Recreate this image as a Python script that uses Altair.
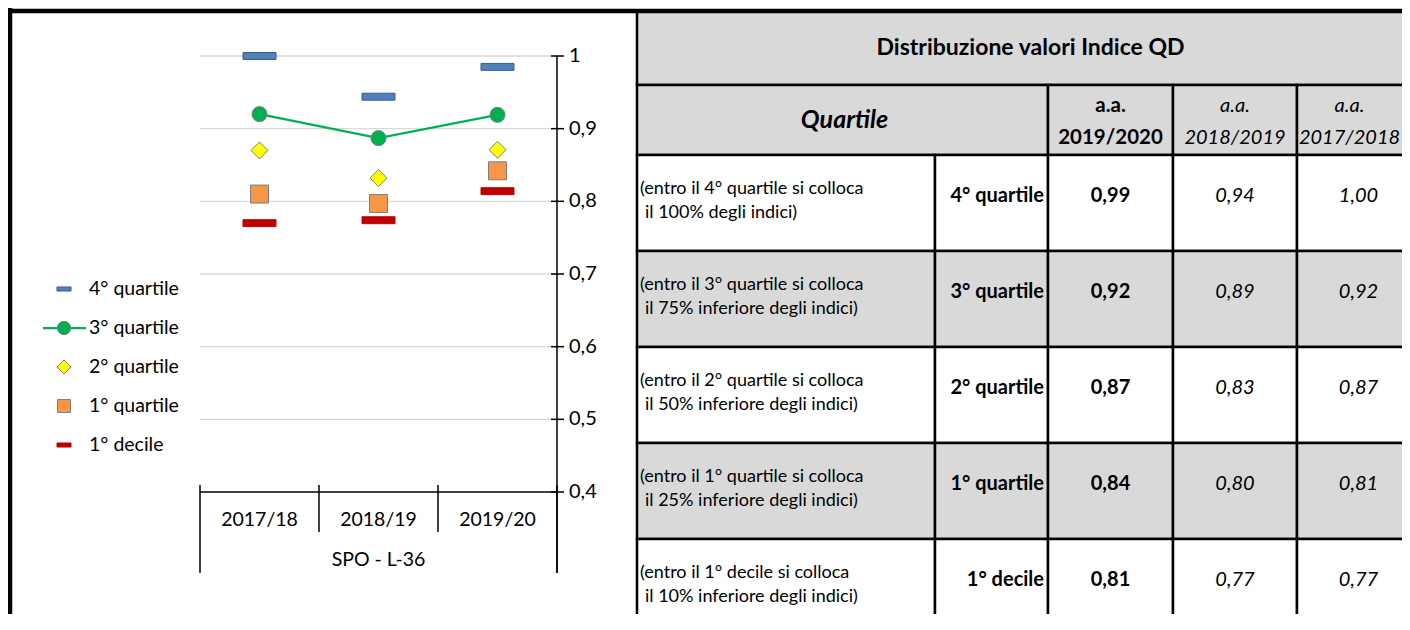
import altair as alt
import pandas as pd

# ---------------- data ----------------
years = ["2017/18", "2018/19", "2019/20"]
group_label = "SPO - L-36"
series = ["4° quartile", "3° quartile", "2° quartile", "1° quartile", "1° decile"]
q4 = [1.000, 0.944, 0.985]
q3 = [0.920, 0.887, 0.919]
q2 = [0.870, 0.832, 0.871]
q1 = [0.810, 0.797, 0.842]
d1 = [0.770, 0.774, 0.814]
y_ticks = [0.4, 0.5, 0.6, 0.7, 0.8, 0.9, 1.0]
y_tick_labels = ["0,4", "0,5", "0,6", "0,7", "0,8", "0,9", "1"]

table_title = "Distribuzione valori Indice QD"
header_quartile = "Quartile"
header_aa = ["a.a.", "a.a.", "a.a."]
header_years = ["2019/2020", "2018/2019", "2017/2018"]
row_desc_1 = ["(entro il 4° quartile si colloca", "(entro il 3° quartile si colloca",
              "(entro il 2° quartile si colloca", "(entro il 1° quartile si colloca",
              "(entro il 1° decile si colloca"]
row_desc_2 = ["il 100% degli indici)", "il 75% inferiore degli indici)",
              "il 50% inferiore degli indici)", "il 25% inferiore degli indici)",
              "il 10% inferiore degli indici)"]
val_2019 = ["0,99", "0,92", "0,87", "0,84", "0,81"]
val_2018 = ["0,94", "0,89", "0,83", "0,80", "0,77"]
val_2017 = ["1,00", "0,92", "0,87", "0,81", "0,77"]

series_values = [q4, q3, q2, q1, d1]

# ---------------- layout / styles ----------------
W, H = 1394, 606
FONT = "Lato"
GREY = "#D9D9D9"
col_edges = [629, 927, 1040, 1165, 1289, 1412]
row_edges = [3, 77, 147, 243, 339, 435, 531, 627]

RECT_CHART = "M-1,-0.21H1V0.21H-1Z"
RECT_LEG = "M-1,-0.29H1V0.29H-1Z"
styles = [
    dict(shape=RECT_CHART, lshape=RECT_LEG, fill="#4F81BD", stroke="#385D8A", size=1089, lsize=196),
    dict(shape="circle", lshape="circle", fill="#00B050", stroke="#7F7F7F", size=227, lsize=177),
    dict(shape="diamond", lshape="diamond", fill="#FFFF00", stroke="#7F7F7F", size=289, lsize=196),
    dict(shape="square", lshape="square", fill="#F79646", stroke="#7F7F7F", size=324, lsize=169),
    dict(shape=RECT_CHART, lshape=RECT_LEG, fill="#C00000", stroke="#C00000", size=1089, lsize=196),
]

px = alt.Scale(domain=[0, W], range=[0, W], zero=False, nice=False)
py = alt.Scale(domain=[0, H], range=[0, H], zero=False, nice=False)
xs = alt.Scale(domain=[-0.5, len(years) - 0.5], range=[192, 549], zero=False, nice=False)
ys = alt.Scale(domain=[0.4, 1.0], range=[484, 48], zero=False, nice=False)

# ---------------- table (layout space) ----------------
cells = [dict(x=col_edges[0], x2=col_edges[5], y=row_edges[0], y2=row_edges[1], fill=GREY),
         dict(x=col_edges[0], x2=col_edges[2], y=row_edges[1], y2=row_edges[2], fill=GREY)]
for c in range(2, 5):
    cells.append(dict(x=col_edges[c], x2=col_edges[c + 1], y=row_edges[1], y2=row_edges[2], fill=GREY))
for i in range(len(series)):
    for c in range(5):
        cells.append(dict(x=col_edges[c], x2=col_edges[c + 1], y=row_edges[i + 2], y2=row_edges[i + 3],
                          fill="white" if i % 2 == 0 else GREY))
cells_df = pd.DataFrame(cells)


def lx(f):
    return alt.X(f, type="quantitative", scale=px, axis=None)


def ly(f):
    return alt.Y(f, type="quantitative", scale=py, axis=None)


table_rects = alt.Chart(cells_df).mark_rect(stroke="black", strokeWidth=2.5).encode(
    x=lx("x"), x2="x2", y=ly("y"), y2="y2", fill=alt.Fill("fill:N", scale=None))

frame_df = pd.DataFrame({"x": [0, 2], "x2": [W, 2], "y": [3, 0], "y2": [3, H]})
frame = alt.Chart(frame_df).mark_rule(color="black", strokeWidth=4.5).encode(
    x=lx("x"), x2="x2", y=ly("y"), y2="y2")


def text_layer(df, **kw):
    base = dict(font=FONT, color="black", baseline="middle")
    base.update(kw)
    return alt.Chart(df).mark_text(**base).encode(x=lx("x"), y=ly("y"), text="t:N")


title_df = pd.DataFrame({"x": [(col_edges[0] + col_edges[5]) / 2 + 2], "y": [40], "t": [table_title]})
t_title = text_layer(title_df, fontSize=23, fontWeight="bold", align="center")

hq_df = pd.DataFrame({"x": [(col_edges[0] + col_edges[2]) / 2 + 2], "y": [112], "t": [header_quartile]})
t_hq = text_layer(hq_df, fontSize=25, fontWeight="bold", fontStyle="italic", align="center")

hy_cx = [(col_edges[c] + col_edges[c + 1]) / 2 for c in range(2, 5)]
hy_cx_txt = [hy_cx[0], hy_cx[1], (col_edges[4] + W) / 2]
t_ha_b = text_layer(pd.DataFrame({"x": hy_cx_txt[:1], "y": [98], "t": header_aa[:1]}),
                    fontSize=20.5, fontWeight="bold", align="center")
t_hy_b = text_layer(pd.DataFrame({"x": hy_cx_txt[:1], "y": [130], "t": header_years[:1]}),
                    fontSize=20.5, fontWeight="bold", align="center")
t_ha_i = text_layer(pd.DataFrame({"x": hy_cx_txt[1:], "y": [98, 98], "t": header_aa[1:]}),
                    fontSize=20, fontStyle="italic", align="center")
t_hy_i = text_layer(pd.DataFrame({"x": hy_cx_txt[1:], "y": [130, 130], "t": header_years[1:]}),
                    fontSize=20, fontStyle="italic", align="center")

row_top = [row_edges[i + 2] for i in range(len(series))]
row_y = [r + 41 for r in row_top]
t_desc1 = text_layer(pd.DataFrame({"x": [col_edges[0] + 3] * 5, "y": [r + 34 for r in row_top], "t": row_desc_1}),
                     fontSize=18, align="left")
t_desc2 = text_layer(pd.DataFrame({"x": [col_edges[0] + 8] * 5, "y": [r + 58 for r in row_top], "t": row_desc_2}),
                     fontSize=18, align="left")
t_lab = text_layer(pd.DataFrame({"x": [col_edges[2] - 4] * 5, "y": row_y, "t": series}),
                   fontSize=20, fontWeight="bold", align="right")
t_v19 = text_layer(pd.DataFrame({"x": [hy_cx[0]] * 5, "y": row_y, "t": val_2019}),
                   fontSize=20, fontWeight="bold", align="center")
t_v18 = text_layer(pd.DataFrame({"x": [hy_cx[1]] * 5, "y": row_y, "t": val_2018}),
                   fontSize=20, fontStyle="italic", align="center")
t_v17 = text_layer(pd.DataFrame({"x": [hy_cx[2]] * 5, "y": row_y, "t": val_2017}),
                   fontSize=20, fontStyle="italic", align="center")

# ---------------- legend (layout space) ----------------
leg_y = [281 + 39 * i for i in range(len(series))]
leg_layers = []
leg_layers.append(alt.Chart(pd.DataFrame({"x": [35], "x2": [78], "y": [leg_y[1]]})).mark_rule(
    color="#00B050", strokeWidth=2.25).encode(x=lx("x"), x2="x2", y=ly("y")))
for i, st in enumerate(styles):
    leg_layers.append(alt.Chart(pd.DataFrame({"x": [56], "y": [leg_y[i]]})).mark_point(
        filled=True, opacity=1, shape=st["lshape"], size=st["lsize"], fill=st["fill"],
        stroke=st["stroke"], strokeWidth=1).encode(x=lx("x"), y=ly("y")))
leg_text = text_layer(pd.DataFrame({"x": [81] * 5, "y": leg_y, "t": series}),
                      fontSize=19.5, align="left")

layout_group = alt.layer(table_rects, frame, t_title, t_hq, t_ha_b, t_hy_b, t_ha_i, t_hy_i,
                         t_desc1, t_desc2, t_lab, t_v19, t_v18, t_v17, *leg_layers, leg_text)

# ---------------- chart (data space) ----------------
grid = alt.Chart(pd.DataFrame({"v": y_ticks[1:]})).mark_rule(color="#D9D9D9", strokeWidth=1.3).encode(
    x=alt.XDatum(-0.5, type="quantitative", scale=xs, axis=None),
    x2=alt.X2Datum(len(years) - 0.5),
    y=alt.Y("v:Q", scale=ys, axis=None))
xaxis = alt.Chart(pd.DataFrame({"v": [y_ticks[0]]})).mark_rule(color="black", strokeWidth=1.5).encode(
    x=alt.XDatum(-0.5, type="quantitative", scale=xs, axis=None),
    x2=alt.X2Datum(len(years) - 0.5),
    y=alt.Y("v:Q", scale=ys, axis=None))
yaxis = alt.Chart(pd.DataFrame({"v": [y_ticks[-1]]})).mark_rule(color="black", strokeWidth=1.5).encode(
    x=alt.XDatum(len(years) - 0.5, type="quantitative", scale=xs, axis=None),
    y=alt.Y("v:Q", scale=ys, axis=None),
    y2=alt.value(565))
yticks = alt.Chart(pd.DataFrame({"v": y_ticks})).mark_rule(color="black", strokeWidth=1.5,
                                                             xOffset=-6, x2Offset=7).encode(
    x=alt.XDatum(len(years) - 0.5, type="quantitative", scale=xs, axis=None),
    x2=alt.X2Datum(len(years) - 0.5),
    y=alt.Y("v:Q", scale=ys, axis=None))
ylabels = alt.Chart(pd.DataFrame({"v": y_ticks, "t": y_tick_labels})).mark_text(
    font=FONT, fontSize=20, align="left", baseline="middle", color="black").encode(
    x=alt.value(561), y=alt.Y("v:Q", scale=ys, axis=None), text="t:N")

bounds = [i - 0.5 for i in range(len(years) + 1)]
sep_inner = alt.Chart(pd.DataFrame({"b": bounds[1:-1]})).mark_rule(color="black", strokeWidth=1.5).encode(
    x=alt.X("b:Q", scale=xs, axis=None), y=alt.value(477), y2=alt.value(524))
sep_outer = alt.Chart(pd.DataFrame({"b": [bounds[0], bounds[-1]]})).mark_rule(color="black", strokeWidth=1.5).encode(
    x=alt.X("b:Q", scale=xs, axis=None), y=alt.value(477), y2=alt.value(565))
xlabels = alt.Chart(pd.DataFrame({"i": list(range(len(years))), "t": years})).mark_text(
    font=FONT, fontSize=19.5, align="center", baseline="middle", color="black").encode(
    x=alt.X("i:Q", scale=xs, axis=None), y=alt.value(512), text="t:N")
glabel = alt.Chart(pd.DataFrame({"i": [(len(years) - 1) / 2], "t": [group_label]})).mark_text(
    font=FONT, fontSize=19.5, align="center", baseline="middle", color="black").encode(
    x=alt.X("i:Q", scale=xs, axis=None), y=alt.value(552), text="t:N")

line3 = alt.Chart(pd.DataFrame({"i": list(range(len(years))), "v": q3})).mark_line(
    color="#00B050", strokeWidth=2.25).encode(
    x=alt.X("i:Q", scale=xs, axis=None), y=alt.Y("v:Q", scale=ys, axis=None))

point_layers = []
for st, vals in zip(styles, series_values):
    point_layers.append(alt.Chart(pd.DataFrame({"i": list(range(len(years))), "v": vals})).mark_point(
        filled=True, opacity=1, shape=st["shape"], size=st["size"], fill=st["fill"],
        stroke=st["stroke"], strokeWidth=1).encode(
        x=alt.X("i:Q", scale=xs, axis=None), y=alt.Y("v:Q", scale=ys, axis=None)))

chart_group = alt.layer(grid, xaxis, sep_inner, sep_outer, yaxis, yticks, ylabels, xlabels, glabel,
                        line3, *point_layers)

chart = alt.layer(layout_group, chart_group).resolve_scale(
    x="independent", y="independent"
).properties(
    width=W, height=H, padding=0, autosize=alt.AutoSizeParams(type="none"),
    background="white"
).configure_view(stroke=None)

chart.save("out.html", embed_options={"renderer": "svg", "actions": False})
